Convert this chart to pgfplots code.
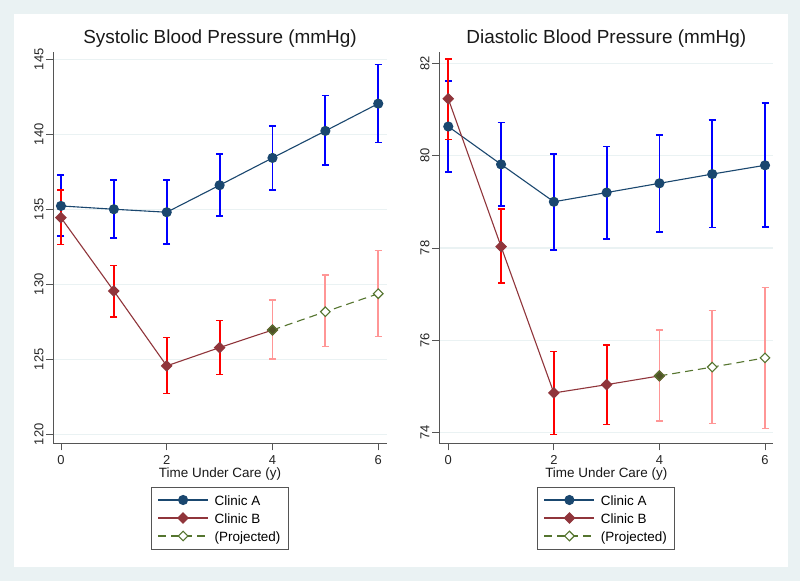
\documentclass[border=0pt]{standalone}
\usepackage{pgfplots}
\usepackage{pgfplotstable}
\pgfplotsset{compat=1.18}
\usepackage{fontspec}
\setmainfont{Liberation Sans}

\definecolor{bgc}{RGB}{234,242,243}
\definecolor{gridc}{RGB}{234,242,243}
\definecolor{axisc}{RGB}{85,85,85}
\definecolor{navy}{RGB}{26,71,111}
\definecolor{maroon}{RGB}{144,53,59}
\definecolor{fgreen}{RGB}{85,117,47}
\definecolor{lightred}{RGB}{255,150,150}
\definecolor{olivemix}{RGB}{80,80,40}

% x y lo hi
\pgfplotstableread{
x y lo hi
0 135.22 133.20 137.30
1 135.00 133.10 136.93
2 134.80 132.67 136.93
3 136.60 134.55 138.67
4 138.42 136.30 140.55
5 140.22 137.93 142.57
6 142.04 139.44 144.64
}\sysA
\pgfplotstableread{
x y lo hi
0 134.44 132.64 136.27
1 129.55 127.80 131.24
2 124.56 122.71 126.44
3 125.78 123.98 127.58
4 126.95 125.00 128.97
5 128.17 125.84 130.60
6 129.37 126.53 132.24
}\sysB
\pgfplotstableread{
x y lo hi
0 80.63 79.65 81.62
1 79.81 78.91 80.72
2 79.00 77.96 80.04
3 79.20 78.20 80.20
4 79.40 78.35 80.44
5 79.60 78.44 80.77
6 79.79 78.46 81.14
}\diaA
\pgfplotstableread{
x y lo hi
0 81.23 80.35 82.09
1 78.03 77.24 78.85
2 74.86 73.96 75.76
3 75.04 74.18 75.90
4 75.23 74.25 76.22
5 75.42 74.20 76.65
6 75.62 74.09 77.14
}\diaB

\pgfplotsset{
  bp/.style={
    scale only axis, axis lines=left,
    axis line style={-, draw=axisc, line width=0.8bp},
    tick align=outside, major tick length=7bp,
    tick style={draw=axisc, line width=0.8bp},
    ymajorgrids, grid style={draw=gridc, line width=1.2bp},
    xtick={0,2,4,6},
    /pgf/number format/assume math mode=true,
    title style={font=\fontsize{19}{22}\selectfont, anchor=base, at={(0.5,1)}, yshift=2.7bp, text=black!90},
    xlabel style={font=\fontsize{13.5}{16}\selectfont, anchor=base, at={(axis description cs:0.5,0)}, yshift=-34.5bp, text=black!90},
    ticklabel style={font=\fontsize{13}{15}\selectfont, text=black!85},
    xticklabel style={anchor=base, inner sep=0pt}, xticklabel shift=14bp,
    yticklabel style={rotate=90, anchor=base, inner sep=0pt}, yticklabel shift=3bp,
    xlabel={Time Under Care (y)},
    legend style={at={(0.5,0)}, anchor=north, yshift=-43.3bp, draw=axisc, line width=0.8bp,
      fill=white, font=\fontsize{13.5}{16}\selectfont, inner xsep=6bp, inner ysep=4bp,
      row sep=0bp, nodes={inner sep=2bp, text height=12bp, text depth=2bp},
      /tikz/every odd column/.append style={column sep=4bp}},
    legend cell align=left,
    legend image code/.code={\draw[mark repeat=2,mark phase=2] plot coordinates {(0bp,0bp) (25bp,0bp) (50bp,0bp)};},
  },
  errbar/.style={forget plot, only marks, mark=none,
    error bars/y dir=both, error bars/y explicit,
    error bars/error mark=-,
    error bars/error bar style={draw=#1, line width=1.8bp, solid},
    error bars/error mark options={rotate=90, draw=#1, line width=1.6bp, mark size=3.5bp}},
  lineA/.style={draw=navy, line width=1.1bp, mark=*, mark size=4.5bp, mark options={fill=navy, draw=navy, solid}},
  lineB/.style={draw=maroon, line width=1.1bp, mark=square*, mark size=3.6bp, mark options={rotate=45, fill=maroon, draw=maroon, solid}},
  lineP/.style={draw=fgreen, line width=1.1bp, dash pattern=on 8bp off 5bp, mark=square*, mark size=3.4bp, mark options={rotate=45, fill=white, draw=fgreen, solid}},
}

\begin{document}
\begin{tikzpicture}
\fill[bgc] (0,0) rectangle (800bp,581bp);
\fill[white] (14bp,14bp) rectangle (787.5bp,567bp);
\useasboundingbox (0,0) rectangle (800bp,581bp);

\begin{axis}[bp, at={(53.3bp,137.7bp)}, anchor=south west,
  width=333.4bp, height=391.6bp,
  xmin=-0.145, xmax=6.16, ymin=119.4, ymax=145.5,
  ytick={120,125,...,145},
  title={Systolic Blood Pressure (mmHg)}]
\addlegendimage{lineA}\addlegendentry{Clinic A}
\addlegendimage{lineB}\addlegendentry{Clinic B}
\addlegendimage{lineP}\addlegendentry{(Projected)}
\addplot[errbar=blue] table[x=x, y=y, y error plus expr=\thisrow{hi}-\thisrow{y}, y error minus expr=\thisrow{y}-\thisrow{lo}] {\sysA};
\addplot[errbar=red, restrict x to domain=0:3] table[x=x, y=y, y error plus expr=\thisrow{hi}-\thisrow{y}, y error minus expr=\thisrow{y}-\thisrow{lo}] {\sysB};
\addplot[errbar=lightred, restrict x to domain=4:6] table[x=x, y=y, y error plus expr=\thisrow{hi}-\thisrow{y}, y error minus expr=\thisrow{y}-\thisrow{lo}] {\sysB};
\addplot[lineA, forget plot] table[x=x, y=y] {\sysA};
\addplot[lineB, forget plot, restrict x to domain=0:4] table[x=x, y=y] {\sysB};
\addplot[lineP, forget plot, mark=none, restrict x to domain=4:6] table[x=x, y=y] {\sysB};
\addplot[lineP, forget plot, only marks, restrict x to domain=5:6] table[x=x, y=y] {\sysB};
\addplot[forget plot, only marks, mark=square*, mark size=3.4bp, mark options={rotate=45, fill=olivemix, draw=fgreen, line width=1.1bp}] coordinates {(4,126.95)};
\end{axis}

\begin{axis}[bp, at={(439.3bp,137.7bp)}, anchor=south west,
  width=334bp, height=391.6bp,
  xmin=-0.17, xmax=6.157, ymin=73.77, ymax=82.25,
  ytick={74,76,...,82},
  title={Diastolic Blood Pressure (mmHg)}]
\addlegendimage{lineA}\addlegendentry{Clinic A}
\addlegendimage{lineB}\addlegendentry{Clinic B}
\addlegendimage{lineP}\addlegendentry{(Projected)}
\addplot[errbar=blue] table[x=x, y=y, y error plus expr=\thisrow{hi}-\thisrow{y}, y error minus expr=\thisrow{y}-\thisrow{lo}] {\diaA};
\addplot[errbar=red, restrict x to domain=0:3] table[x=x, y=y, y error plus expr=\thisrow{hi}-\thisrow{y}, y error minus expr=\thisrow{y}-\thisrow{lo}] {\diaB};
\addplot[errbar=lightred, restrict x to domain=4:6] table[x=x, y=y, y error plus expr=\thisrow{hi}-\thisrow{y}, y error minus expr=\thisrow{y}-\thisrow{lo}] {\diaB};
\addplot[lineA, forget plot] table[x=x, y=y] {\diaA};
\addplot[lineB, forget plot, restrict x to domain=0:4] table[x=x, y=y] {\diaB};
\addplot[lineP, forget plot, mark=none, restrict x to domain=4:6] table[x=x, y=y] {\diaB};
\addplot[lineP, forget plot, only marks, restrict x to domain=5:6] table[x=x, y=y] {\diaB};
\addplot[forget plot, only marks, mark=square*, mark size=3.4bp, mark options={rotate=45, fill=olivemix, draw=fgreen, line width=1.1bp}] coordinates {(4,75.23)};
\end{axis}
\end{tikzpicture}
\end{document}
